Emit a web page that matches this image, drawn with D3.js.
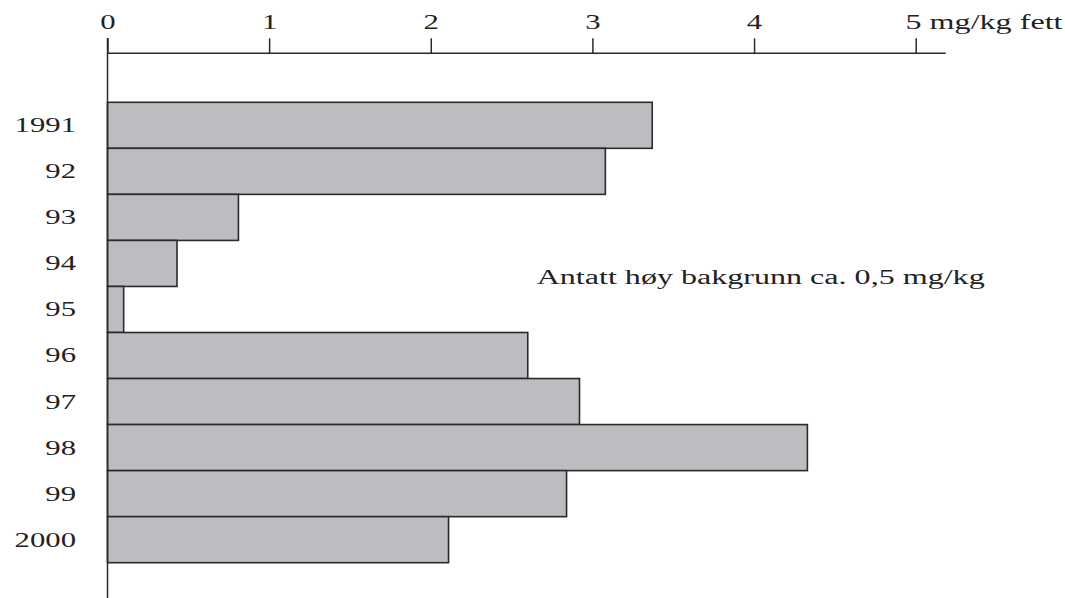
<!DOCTYPE html>
<html><head><meta charset="utf-8">
<script src="https://cdn.jsdelivr.net/npm/d3@7"></script>
<style>body{margin:0;background:#fff}svg{display:block}</style>
</head><body>
<svg id="c" width="1065" height="598"></svg>
<script>
const years = ["1991","92","93","94","95","96","97","98","99","2000"];
const values = [3.37, 3.08, 0.81, 0.43, 0.10, 2.60, 2.92, 4.33, 2.84, 2.11];
const xTicks = [0,1,2,3,4,5];
const unitLabel = "mg/kg fett";
const note = "Antatt høy bakgrunn ca. 0,5 mg/kg";

const svg = d3.select("#c");
const font = "'Liberation Serif','Times New Roman',serif";
const fs = 20.5, sx = 1.5, ink = "#222";
const x = d3.scaleLinear().domain([0,5]).range([107.5, 915.7]);
const y = d3.scaleBand().domain(years).range([102.3, 562.7]).padding(0);

// bars
svg.append("g").selectAll("rect").data(years).join("rect")
  .attr("x", x(0))
  .attr("y", d => y(d))
  .attr("width", (d,i) => x(values[i]) - x(0))
  .attr("height", y.bandwidth())
  .attr("fill", "#bcbdc1")
  .attr("stroke", "#2a2a2a")
  .attr("stroke-width", 1.6);

// top axis
const axisY = 53.3;
const gx = svg.append("g").attr("transform", `translate(0,${axisY})`)
  .call(d3.axisTop(x).tickValues(xTicks).tickSize(15).tickSizeOuter(0).tickFormat(d3.format("d")));
gx.select(".domain").attr("d", `M${x(0)},0H945.7`).attr("stroke", "#2a2a2a").attr("stroke-width", 1.5);
gx.selectAll(".tick line").attr("stroke", "#2a2a2a").attr("stroke-width", 1.5);
gx.selectAll(".tick text").attr("font-family", font).attr("font-size", fs).attr("fill", ink)
  .attr("y", -24).attr("dy", 0).attr("transform", `scale(${sx},1)`);
gx.selectAll(".tick").filter(d => d === 5).select("text")
  .attr("text-anchor", "start").attr("x", -10.7 / sx)
  .attr("textLength", 157 / sx).attr("lengthAdjust", "spacingAndGlyphs")
  .text(d => d + " " + unitLabel);

// vertical axis line
svg.append("line").attr("x1", x(0)).attr("x2", x(0)).attr("y1", 38).attr("y2", 598)
  .attr("stroke", "#2a2a2a").attr("stroke-width", 1.5);

// category labels
svg.append("g").selectAll("text").data(years).join("text")
  .attr("transform", d => `translate(76,${y(d) + y.bandwidth()/2}) scale(${sx},1)`)
  .attr("text-anchor", "end").attr("dy", "0.34em")
  .attr("font-family", font).attr("font-size", fs).attr("fill", ink)
  .text(d => d);

// annotation
svg.append("text").attr("x", 536.7).attr("y", 284.3)
  .attr("font-family", font).attr("font-size", fs).attr("fill", ink)
  .attr("textLength", 448).attr("lengthAdjust", "spacingAndGlyphs")
  .text(note);
</script>
</body></html>
